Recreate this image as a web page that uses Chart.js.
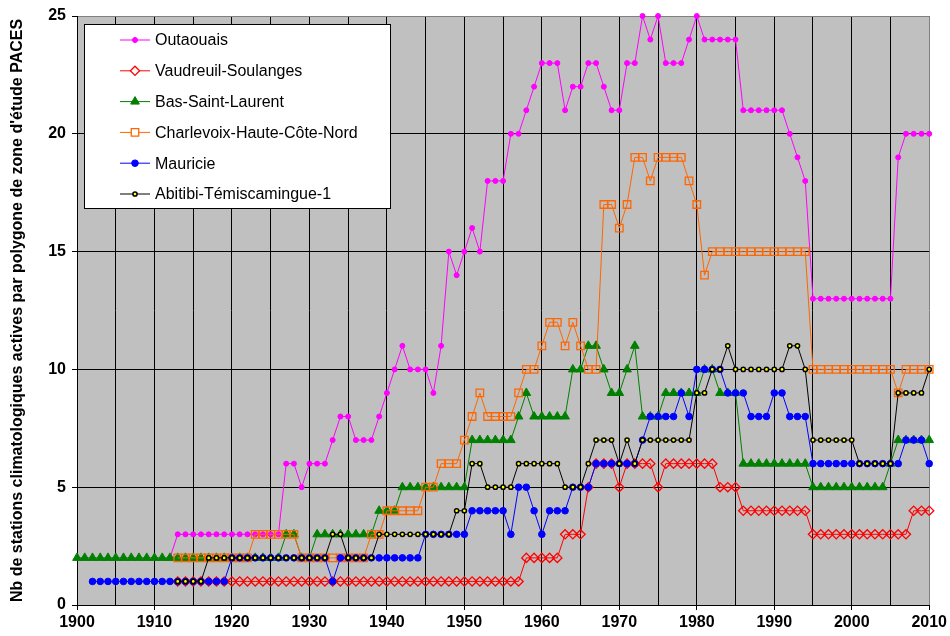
<!DOCTYPE html>
<html>
<head>
<meta charset="utf-8">
<script src="https://cdn.jsdelivr.net/npm/chart.js"></script>
<style>
  body { margin: 0; background: #fff; }
</style>
</head>
<body>
<canvas id="myChart" width="950" height="636"></canvas>
<script>
// active stations per year, each list starts at its first year
var outaouaisStart = 1912;
var outaouais = [2,
    3, 3, 3, 3, 3, 3, 3, 3, 3, 3, 3, 3, 3, 3,
    6, 6, 5, 6, 6, 6, 7, 8, 8, 7, 7, 7,
    8, 9, 10, 11, 10, 10, 10, 9, 11,
    15, 14, 15, 16, 15, 18, 18, 18, 20, 20,
    21, 22, 23, 23, 23, 21, 22, 22, 23, 23,
    22, 21, 21, 23, 23, 25, 24, 25, 23, 23,
    23, 24, 25, 24, 24, 24, 24, 24,
    21, 21, 21, 21, 21, 21, 20, 19, 18,
    13, 13, 13, 13, 13, 13, 13, 13, 13, 13, 13,
    19, 20, 20, 20, 20];

var vaudreuilStart = 1913;
var vaudreuil = [1, 1, 1, 1, 1, 1, 1, 1, 1, 1,
    1, 1, 1, 1, 1, 1, 1, 1, 1, 1,
    1, 1, 1, 1, 1, 1, 1, 1, 1, 1,
    1, 1, 1, 1, 1, 1, 1, 1, 1, 1,
    1, 1, 1, 1, 1,
    2, 2, 2, 2, 2, 3, 3, 3,
    5, 6, 6, 6, 5, 6, 6, 6, 6, 5,
    6, 6, 6, 6, 6, 6, 6, 5, 5, 5,
    4, 4, 4, 4, 4, 4, 4, 4, 4,
    3, 3, 3, 3, 3, 3, 3, 3, 3, 3, 3, 3, 3,
    4, 4, 4];

var basSaintLaurentStart = 1900;
var basSaintLaurent = [2, 2, 2, 2, 2, 2, 2, 2, 2, 2,
    2, 2, 2, 2, 2, 2, 2, 2, 2, 2,
    2, 2, 2, 2, 2, 2, 2,
    3, 3, 2, 2,
    3, 3, 3, 3, 3, 3, 3, 3,
    4, 4, 4,
    5, 5, 5, 5, 5, 5, 5, 5, 5,
    7, 7, 7, 7, 7, 7, 8, 9,
    8, 8, 8, 8, 8,
    10, 10, 11, 11, 10, 9, 9, 10, 11,
    8, 8, 8, 9, 9, 9, 9, 9, 10, 10, 9, 9, 9,
    6, 6, 6, 6, 6, 6, 6, 6, 6,
    5, 5, 5, 5, 5, 5, 5, 5, 5, 5,
    6, 7, 7, 7, 7, 7];

var charlevoixStart = 1913;
var charlevoix = [2, 2, 2, 2, 2, 2, 2, 2, 2, 2,
    3, 3, 3, 3, 3, 3,
    2, 2, 2, 2, 2, 2, 2, 2, 2,
    3, 3, 4, 4, 4, 4, 4, 5, 5,
    6, 6, 6, 7, 8, 9, 8, 8, 8, 8, 9,
    10, 10, 11, 12, 12, 11, 12, 11, 10, 10,
    17, 17, 16, 17, 19, 19, 18, 19, 19, 19, 19, 18, 17, 14,
    15, 15, 15, 15, 15, 15, 15, 15, 15, 15, 15, 15, 15,
    10, 10, 10, 10, 10, 10, 10, 10, 10, 10, 10,
    9, 10, 10, 10, 10];

var mauricieStart = 1902;
var mauricie = [1, 1, 1, 1, 1, 1, 1, 1, 1, 1, 1, 1, 1, 1, 1, 1, 1, 1,
    2, 2, 2, 2, 2, 2, 2, 2, 2, 2, 2, 2, 2,
    1, 2, 2, 2, 2, 2, 2, 2, 2, 2, 2, 2,
    3, 3, 3, 3, 3, 3, 4, 4, 4, 4, 4, 3, 5, 5, 4, 3, 4, 4, 4, 5, 5, 5,
    6, 6, 6, 6, 6, 6, 7, 8, 8, 8, 8, 9, 8,
    10, 10, 10, 10, 9, 9, 9, 8, 8, 8, 9, 9, 8, 8, 8,
    6, 6, 6, 6, 6, 6, 6, 6, 6, 6, 6, 6,
    7, 7, 7, 6];

var abitibiStart = 1913;
var abitibi = [1, 1, 1, 1,
    2, 2, 2, 2, 2, 2, 2, 2, 2, 2, 2, 2, 2, 2, 2, 2,
    3, 3, 2, 2, 2, 2,
    3, 3, 3, 3, 3, 3, 3, 3, 3, 3, 4, 4,
    6, 6, 5, 5, 5, 5, 6, 6, 6, 6, 6, 6, 5, 5, 5,
    6, 7, 7, 7, 6, 7, 6, 7, 7, 7, 7, 7, 7, 7,
    9, 9, 10, 10, 11, 10, 10, 10, 10, 10, 10, 10, 11, 11, 10,
    7, 7, 7, 7, 7, 7, 6, 6, 6, 6, 6,
    9, 9, 9, 9, 10];

var seriesNames = ['Outaouais', 'Vaudreuil-Soulanges', 'Bas-Saint-Laurent',
    'Charlevoix-Haute-Côte-Nord', 'Mauricie', 'Abitibi-Témiscamingue-1'];
var yTitle = "Nb de stations climatologiques actives par polygone de zone d'étude PACES";

var fontFamily = 'Liberation Sans, Arial, sans-serif';

function toPoints(start, values) {
    return values.map(function (v, i) { return { x: start + i, y: v }; });
}

var datasets = [
    { label: seriesNames[0], data: toPoints(outaouaisStart, outaouais), borderColor: '#FF00FF',
      backgroundColor: '#FF00FF', pointStyle: 'circle', pointRadius: 2.5, pointBorderWidth: 1, order: 6 },
    { label: seriesNames[1], data: toPoints(vaudreuilStart, vaudreuil), borderColor: '#FF0000',
      backgroundColor: 'rgba(0,0,0,0)', pointStyle: 'rectRot', pointRadius: 4.6, pointBorderWidth: 1.3, order: 5 },
    { label: seriesNames[2], data: toPoints(basSaintLaurentStart, basSaintLaurent), borderColor: '#008000',
      backgroundColor: '#008000', pointStyle: 'triangle', pointRadius: 5, pointBorderWidth: 1, order: 4 },
    { label: seriesNames[3], data: toPoints(charlevoixStart, charlevoix), borderColor: '#FF6600',
      backgroundColor: 'rgba(0,0,0,0)', pointStyle: 'rect', pointRadius: 5.3, pointBorderWidth: 1.3, order: 3 },
    { label: seriesNames[4], data: toPoints(mauricieStart, mauricie), borderColor: '#0000FF',
      backgroundColor: '#0000FF', pointStyle: 'circle', pointRadius: 3.3, pointBorderWidth: 1, order: 2 },
    { label: seriesNames[5], data: toPoints(abitibiStart, abitibi), borderColor: '#000000',
      backgroundColor: '#FFFF00', pointStyle: 'circle', pointRadius: 2.1, pointBorderWidth: 1.5, order: 1 }
];
datasets.forEach(function (d) {
    d.borderWidth = 1;
    d.pointBorderColor = d.borderColor;
    d.pointBackgroundColor = d.backgroundColor;
    d.fill = false;
    d.tension = 0;
    d.clip = false;
});

// gray plot area
var plotBackground = {
    id: 'plotBackground',
    beforeDraw: function (chart) {
        var a = chart.chartArea, ctx = chart.ctx;
        ctx.save();
        ctx.fillStyle = '#C0C0C0';
        ctx.fillRect(a.left, a.top, a.right - a.left, a.bottom - a.top);
        ctx.restore();
    }
};

// boxed legend inside the plot, like the original
var boxLegend = {
    id: 'boxLegend',
    afterDraw: function (chart) {
        var ctx = chart.ctx;
        var bx = 84, by = 24, bw = 306, bh = 184;
        ctx.save();
        ctx.fillStyle = '#fff';
        ctx.fillRect(bx, by, bw, bh);
        ctx.strokeStyle = '#000';
        ctx.lineWidth = 1;
        ctx.strokeRect(bx + 0.5, by + 0.5, bw, bh);
        ctx.font = '16px ' + fontFamily;
        ctx.textBaseline = 'middle';
        ctx.textAlign = 'left';
        for (var i = 0; i < datasets.length; i++) {
            var d = datasets[i];
            var y = 40 + i * 30.8;
            ctx.strokeStyle = d.borderColor;
            ctx.lineWidth = 1;
            ctx.beginPath();
            ctx.moveTo(120, y);
            ctx.lineTo(150, y);
            ctx.stroke();
            ctx.fillStyle = d.backgroundColor === 'rgba(0,0,0,0)' ? '#fff' : d.backgroundColor;
            ctx.lineWidth = d.pointBorderWidth;
            Chart.helpers.drawPoint(ctx, { pointStyle: d.pointStyle, radius: d.pointRadius,
                rotation: 0, borderWidth: d.pointBorderWidth }, 135, y);
            ctx.fillStyle = '#000';
            ctx.fillText(d.label, 155, y + 1);
        }
        ctx.restore();
    }
};

var ctx = document.getElementById('myChart');
var myChart = new Chart(ctx, {
    type: 'line',
    data: { datasets: datasets },
    plugins: [plotBackground, boxLegend],
    options: {
        responsive: false,
        animation: false,
        layout: { padding: { top: 16, right: 18, left: 0, bottom: 0 } },
        plugins: { legend: { display: false }, tooltip: { enabled: false } },
        scales: {
            x: {
                type: 'linear',
                min: 1900,
                max: 2010,
                afterFit: function (scale) { scale.height = 31; },
                ticks: {
                    stepSize: 5,
                    autoSkip: false,
                    maxRotation: 0,
                    padding: 3,
                    color: '#000',
                    font: { family: fontFamily, size: 16, weight: 'bold' },
                    callback: function (v) { return v % 10 === 0 ? String(v) : ''; }
                },
                grid: {
                    color: function (c) { return c.tick && c.tick.value === 2010 ? '#808080' : '#000'; },
                    tickLength: 5,
                    tickColor: function (c) { return c.tick && c.tick.value % 10 === 0 ? '#000' : 'rgba(0,0,0,0)'; }
                },
                border: { color: '#000' }
            },
            y: {
                min: 0,
                max: 25,
                afterFit: function (scale) { scale.width = 77; },
                ticks: {
                    stepSize: 5,
                    padding: 6,
                    color: '#000',
                    font: { family: fontFamily, size: 16, weight: 'bold' }
                },
                grid: {
                    color: function (c) { return c.tick && c.tick.value === 25 ? '#808080' : '#000'; },
                    tickLength: 5,
                    tickColor: '#000'
                },
                border: { color: '#000' },
                title: {
                    display: true,
                    text: yTitle,
                    color: '#000',
                    padding: { top: 8, bottom: 4 },
                    font: { family: fontFamily, size: 16, weight: 'bold' }
                }
            }
        }
    }
});
</script>
</body>
</html>
